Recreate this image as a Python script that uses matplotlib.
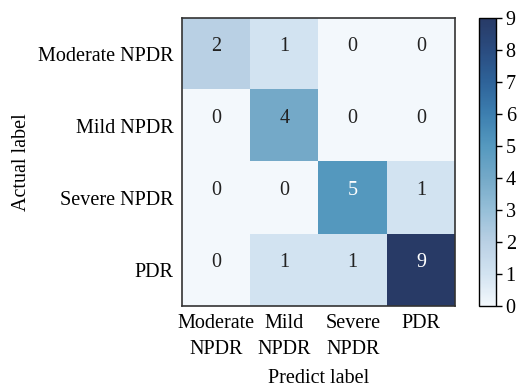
import matplotlib
matplotlib.use("Agg")
import matplotlib.pyplot as plt
from matplotlib.colors import LinearSegmentedColormap
import numpy as np

plt.rcParams['font.family'] = ['Liberation Serif', 'DejaVu Serif']

# confusion matrix: rows = actual, cols = predicted
class_names = ["Moderate NPDR", "Mild NPDR", "Severe NPDR", "PDR"]
pred_tick_labels = ["Moderate\nNPDR", "Mild\nNPDR", "Severe\nNPDR", "PDR"]
counts = [
    [2, 1, 0, 0],
    [0, 4, 0, 0],
    [0, 0, 5, 1],
    [0, 1, 1, 9],
]
cbar_ticks = [0, 1, 2, 3, 4, 5, 6, 7, 8, 9]

# muted blue ramp (a softer take on 'Blues')
ramp = ["#f3f8fc", "#d2e3f1", "#b9d0e4", "#96bfd8", "#74a9c8",
        "#5599bf", "#3d7fb0", "#2e6399", "#2a4c80", "#283a66"]
muted_blues = LinearSegmentedColormap.from_list(
    "muted_blues", list(zip(np.linspace(0, 1, len(ramp)), ramp)))

cm = np.array(counts)
fig = plt.figure(figsize=(5.31, 3.90), dpi=100)
ax = fig.add_axes([0.343, 0.215, 0.514, 0.739])
cax = fig.add_axes([0.902, 0.215, 0.032, 0.739])

im = ax.imshow(cm, cmap=muted_blues, vmin=cm.min(), vmax=cm.max(), aspect='auto')

thresh = (cm.max() + cm.min()) / 2.0
for i in range(cm.shape[0]):
    for j in range(cm.shape[1]):
        color = 'white' if cm[i, j] > thresh else '#222222'
        ax.text(j, i - 0.1, str(cm[i, j]), ha='center', va='center',
                color=color, fontsize=14.5)

ax.set_xticks(range(len(class_names)))
ax.set_xticklabels(pred_tick_labels, fontsize=14.5, linespacing=1.45)
ax.set_yticks(range(len(class_names)))
ax.set_yticklabels(class_names, fontsize=14.5)
ax.tick_params(length=0, pad=6)
ax.set_xlabel("Predict label", fontsize=14.5, labelpad=7)
ax.set_ylabel("Actual label", fontsize=14.5, labelpad=5)
for s in ax.spines.values():
    s.set_linewidth(1.2)
    s.set_color('#333333')

cb = fig.colorbar(im, cax=cax, ticks=cbar_ticks)
cb.ax.tick_params(labelsize=14.5, length=4, width=1, pad=3)
cb.outline.set_linewidth(1.0)

fig.savefig("out.png", dpi=100)
